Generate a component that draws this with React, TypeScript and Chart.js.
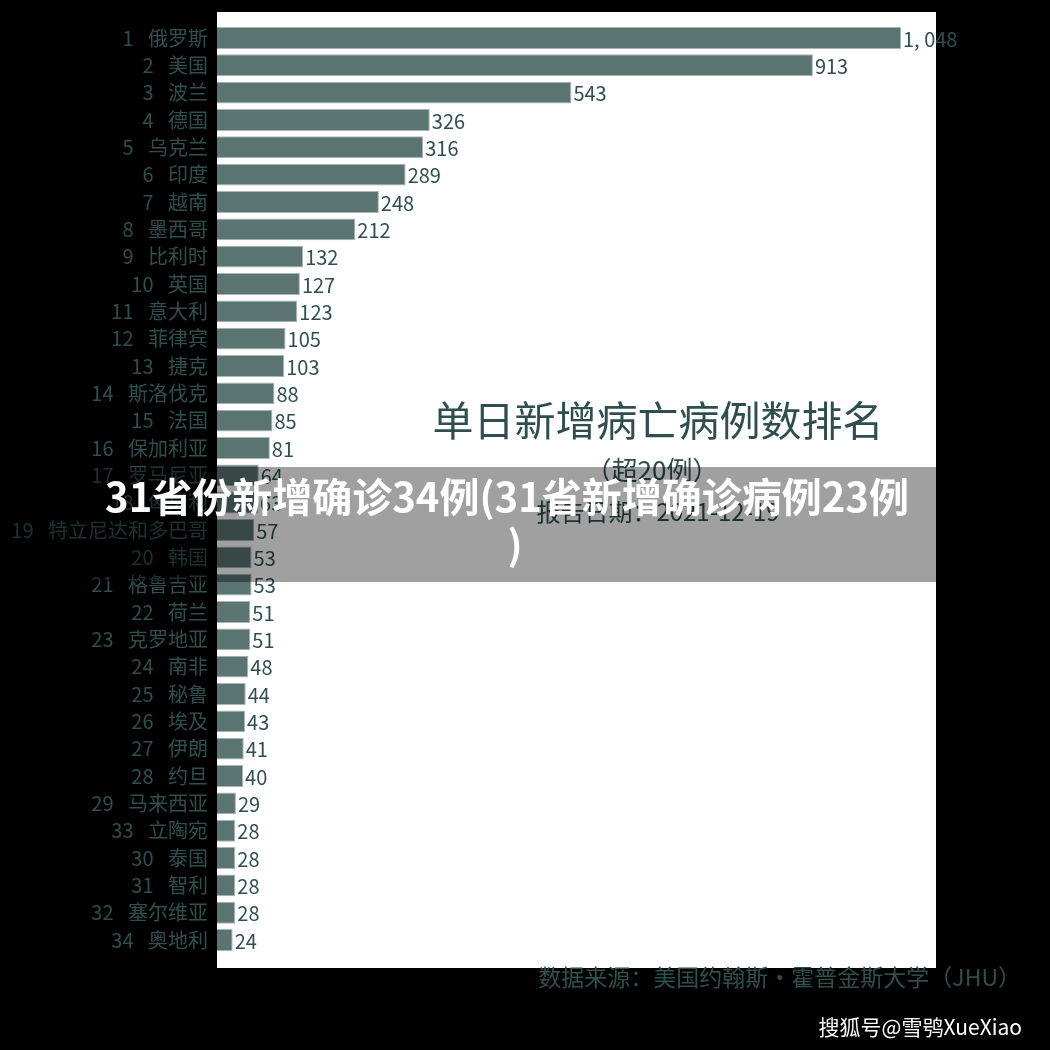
import React, { useEffect, useRef } from "react";
import { Chart, registerables } from "chart.js";

Chart.register(...registerables);

const countries = [
  "1 俄罗斯", "2 美国", "3 波兰", "4 德国", "5 乌克兰", "6 印度", "7 越南", "8 墨西哥",
  "9 比利时", "10 英国", "11 意大利", "12 菲律宾", "13 捷克", "14 斯洛伐克", "15 法国",
  "16 保加利亚", "17 罗马尼亚", "18 匈牙利", "19 特立尼达和多巴哥", "20 韩国", "21 格鲁吉亚",
  "22 荷兰", "23 克罗地亚", "24 南非", "25 秘鲁", "26 埃及", "27 伊朗", "28 约旦",
  "29 马来西亚", "33 立陶宛", "30 泰国", "31 智利", "32 塞尔维亚", "34 奥地利",
];
const deaths = [
  1048, 913, 543, 326, 316, 289, 248, 212, 132, 127, 123, 105, 103, 88, 85, 81, 64, 63, 57,
  53, 53, 51, 51, 48, 44, 43, 41, 40, 29, 28, 28, 28, 28, 24,
];
const chartTitle = "单日新增病亡病例数排名";
const subTitle = "（超20例）";
const reportDate = "报告日期：2021-12-19";
const sourceNote = "数据来源：美国约翰斯·霍普金斯大学（JHU）";
const bannerLines = ["31省份新增确诊34例(31省新增确诊病例23例", ")"];
const watermark = "搜狐号@雪鸮XueXiao";

const TEXT = "#2f4f4f";
const FONT = "'Noto Sans CJK SC', 'Noto Sans', sans-serif";

function fmt(v: number) {
  return v >= 1000 ? `${Math.floor(v / 1000)}, ${String(v % 1000).padStart(3, "0")}` : String(v);
}

const decor = {
  id: "decor",
  beforeDraw(chart: any) {
    const c = chart.ctx;
    c.save();
    c.fillStyle = "#000";
    c.fillRect(0, 0, chart.width, chart.height);
    c.fillStyle = "#fff";
    c.fillRect(217, 12, 719, 956);
    c.restore();
  },
  afterDatasetsDraw(chart: any) {
    const c = chart.ctx;
    c.save();
    const meta = chart.getDatasetMeta(0);
    c.fillStyle = TEXT;
    c.font = `20px ${FONT}`;
    c.textAlign = "left";
    c.textBaseline = "middle";
    meta.data.forEach((el: any, i: number) => {
      c.fillText(fmt(deaths[i]), el.x + 2, el.y + 1);
    });
    c.textAlign = "center";
    c.font = `41px ${FONT}`;
    c.fillText(chartTitle, 658, 420);
    c.font = `26px ${FONT}`;
    c.fillText(subTitle, 652, 470);
    c.font = `24px ${FONT}`;
    c.fillText(reportDate, 658, 512);
    c.font = `23px ${FONT}`;
    c.textAlign = "right";
    c.fillText(sourceNote, 1021, 977);
    c.restore();
  },
  afterDraw(chart: any) {
    const c = chart.ctx;
    c.save();
    c.fillStyle = "rgba(0,0,0,0.373)";
    c.fillRect(0, 467, 936, 115);
    c.fillStyle = "#fff";
    c.textAlign = "center";
    c.textBaseline = "middle";
    c.font = `bold 40px ${FONT}`;
    c.fillText(bannerLines[0], 507, 497);
    c.fillText(bannerLines[1], 515, 545);
    c.font = `21px ${FONT}`;
    c.textAlign = "right";
    c.fillText(watermark, 1022, 1027);
    c.restore();
  },
};

export default function App() {
  const ref = useRef<HTMLCanvasElement>(null);
  useEffect(() => {
    if (!ref.current) return;
    const chart = new Chart(ref.current, {
      type: "bar",
      data: {
        labels: countries,
        datasets: [
          {
            data: deaths,
            backgroundColor: "#5a7472",
            borderColor: "#aab5b4",
            borderWidth: 1,
            categoryPercentage: 0.8,
            barPercentage: 1,
          },
        ],
      },
      options: {
        indexAxis: "y",
        animation: false,
        responsive: false,
        layout: { padding: { top: 24.3, bottom: 96.3, right: 114, left: 0 } },
        plugins: { legend: { display: false }, tooltip: { enabled: false }, title: { display: false } },
        scales: {
          x: { display: false, min: 0, max: 1101.6 },
          y: {
            grid: { display: false, drawTicks: false },
            border: { display: false },
            ticks: {
              color: TEXT,
              font: { size: 20, family: FONT },
              padding: 9,
              autoSkip: false,
              callback: (_v: any, i: number) => countries[i].replace(" ", "\u2002 "),
            },
            afterFit: (s: any) => {
              s.width = 217;
            },
          },
        },
      },
      plugins: [decor],
    });
    return () => chart.destroy();
  }, []);
  return (
    <div style={{ position: "fixed", left: 0, top: 0, width: 1050, height: 1050, background: "#000" }}>
      <canvas ref={ref} width={1050} height={1050} style={{ display: "block" }} />
    </div>
  );
}
